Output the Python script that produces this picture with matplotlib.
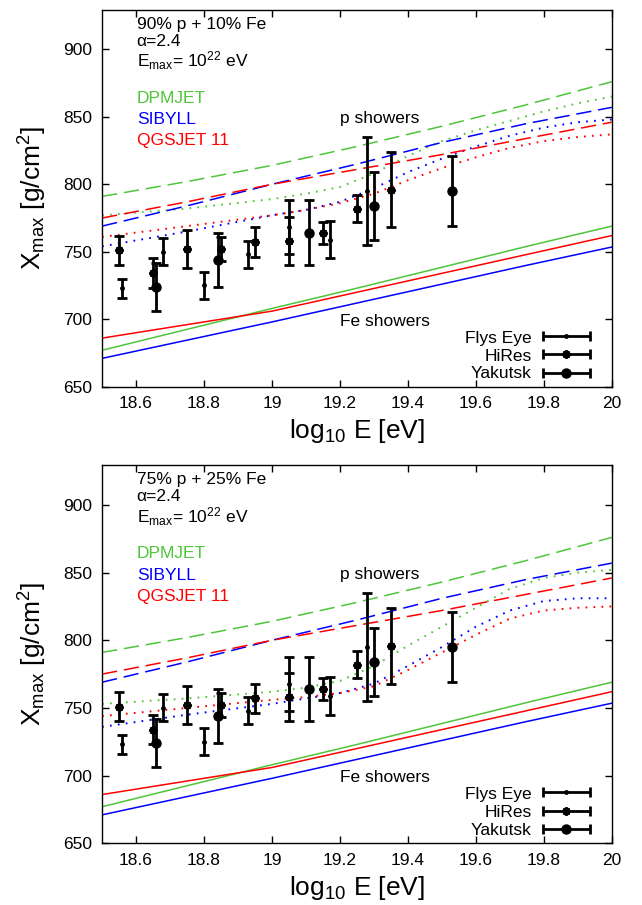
import matplotlib
matplotlib.use("Agg")
import matplotlib.pyplot as plt

plt.rcParams['font.family'] = ['Liberation Sans', 'DejaVu Sans']
plt.rcParams['mathtext.fontset'] = 'custom'
plt.rcParams['mathtext.rm'] = 'Liberation Sans'
plt.rcParams['mathtext.it'] = 'Liberation Sans:italic'

# ---------------- data ----------------
panel_titles = ["90% p + 10% Fe", "75% p + 25% Fe"]
alpha_text = "α=2.4"
emax_text = r"E$_{\rm max}$= 10$^{22}$ eV"
model_names = ["DPMJET", "SIBYLL", "QGSJET 11"]

x_ticks = [18.6, 18.8, 19.0, 19.2, 19.4, 19.6, 19.8, 20.0]
x_tick_labels = ["18.6", "18.8", "19", "19.2", "19.4", "19.6", "19.8", "20"]
y_ticks = [650, 700, 750, 800, 850, 900]

# pure proton / pure iron predictions
E_model = [18.5, 18.75, 19.0, 19.25, 19.5, 19.75, 20.0]
p_dpmjet = [791, 802, 814, 828, 843, 859, 876]
p_sibyll = [769, 784, 800, 815, 831, 845, 857]
p_qgsjet = [775, 787, 800, 811, 822, 834, 846]
fe_dpmjet = [677, 692.5, 708, 723, 738.5, 754, 769]
fe_sibyll = [671, 684.5, 698, 712, 726, 740, 753.5]
fe_qgsjet = [686, 696, 706, 720, 734, 748, 762]

# mixed composition predictions
E_mix = [18.5, 18.75, 19.0, 19.1, 19.2, 19.3, 19.4, 19.5, 19.6, 19.7, 19.8, 19.9, 20.0]
mix90_dpmjet = [777, 782, 789, 793, 798, 808, 821, 832, 840, 847, 854, 860, 865]
mix90_sibyll = [754, 765, 777, 781, 787, 797, 809, 819, 828, 836, 842, 846, 848]
mix90_qgsjet = [761, 769, 777, 781, 786, 793, 803, 812, 820, 827, 832, 835, 837]
mix75_dpmjet = [753, 757, 762, 765, 770, 781, 796, 810, 824, 838, 846, 850, 852]
mix75_sibyll = [736, 745, 753, 757, 761, 768, 781, 795, 810, 822, 829, 831, 831]
mix75_qgsjet = [744, 750, 756, 758, 761, 766, 778, 791, 804, 816, 822, 824, 825]

# measurements
fe_E = [18.56, 18.68, 18.80, 18.93, 19.05, 19.17, 19.28]
fe_X = [723, 750, 725, 748, 768, 759, 795]
fe_err = [7, 10, 10, 10, 20, 14, 40]

hr_E = [18.55, 18.65, 18.75, 18.85, 18.95, 19.05, 19.15, 19.25, 19.35]
hr_X = [751, 734, 752, 752, 757, 758, 764, 782, 796]
hr_err = [11, 11, 14, 9, 11, 18, 8, 10, 28]

yk_E = [18.66, 18.84, 19.11, 19.30, 19.53]
yk_X = [724, 744, 764, 784, 795]
yk_err = [18, 20, 24, 25, 26]

legend_names = ["Flys Eye", "HiRes", "Yakutsk"]

# ---------------- style ----------------
GREEN = '#4ec53a'
BLUE = '#0000ff'
RED = '#ff0000'
colors = [GREEN, BLUE, RED]

fig = plt.figure(figsize=(6.42, 9.05), dpi=100)
ax_top = fig.add_axes([0.159, 0.5727, 0.794, 0.4168])
ax_bot = fig.add_axes([0.159, 0.0682, 0.794, 0.4180])

mix_sets = [(mix90_dpmjet, mix90_sibyll, mix90_qgsjet),
            (mix75_dpmjet, mix75_sibyll, mix75_qgsjet)]

hires_marker = (8, 2, 0)


def draw_panel(ax, title, mixes):
    p_lines = [p_dpmjet, p_sibyll, p_qgsjet]
    fe_lines = [fe_dpmjet, fe_sibyll, fe_qgsjet]
    for c, pl, fl, ml in zip(colors, p_lines, fe_lines, mixes):
        ax.plot(E_model, pl, color=c, lw=1.1, dashes=(10, 4.5))
        ax.plot(E_model, fl, color=c, lw=1.1)
        ax.plot(E_mix, ml, color=c, lw=1.4, dashes=(0.9, 3.2))

    ek = dict(fmt='none', ecolor='black', elinewidth=2.0, capsize=3.4, capthick=2.0)
    ax.errorbar(fe_E, fe_X, yerr=fe_err, **ek)
    ax.errorbar(hr_E, hr_X, yerr=hr_err, **ek)
    ax.errorbar(yk_E, yk_X, yerr=yk_err, **ek)
    ax.plot(fe_E, fe_X, ls='none', marker='o', ms=2.5, color='black')
    ax.plot(hr_E, hr_X, ls='none', marker=hires_marker, ms=6, mew=1.6, color='black')
    ax.plot(yk_E, yk_X, ls='none', marker='o', ms=6.5, color='black')

    ax.set_xlim(18.5, 20.0)
    ax.set_ylim(650, 929.5)
    ax.set_xticks(x_ticks)
    ax.set_xticklabels(x_tick_labels)
    ax.set_yticks(y_ticks)
    ax.tick_params(direction='in', top=True, right=True, length=5, width=1,
                   labelsize=12.5)
    ax.tick_params(axis='x', pad=7)
    ax.tick_params(axis='y', pad=7)
    for s in ax.spines.values():
        s.set_linewidth(1.0)
    ax.set_xlabel(r"log$_{10}$ E [eV]", fontsize=19, labelpad=4)
    ax.set_ylabel(r"X$_{\rm max}$ [g/cm$^{2}$]", fontsize=19, labelpad=10)

    tx = 0.068
    fs = 12.5
    ax.text(tx, 0.9485, title, transform=ax.transAxes, fontsize=fs, va='baseline')
    ax.text(tx, 0.9035, alpha_text, transform=ax.transAxes, fontsize=fs, va='baseline')
    ax.text(tx, 0.8480, emax_text, transform=ax.transAxes, fontsize=fs, va='baseline')
    for name, c, yy in zip(model_names, colors, [0.7529, 0.6964, 0.6407]):
        ax.text(tx, yy, name, transform=ax.transAxes, fontsize=fs, va='baseline', color=c)
    ax.text(0.4667, 0.6983, "p showers", transform=ax.transAxes, fontsize=fs, va='baseline')
    ax.text(0.4667, 0.1609, "Fe showers", transform=ax.transAxes, fontsize=fs, va='baseline')

    # gnuplot-like key
    markers = [dict(marker='o', ms=2.5), dict(marker=hires_marker, ms=6, mew=1.6),
               dict(marker='o', ms=6.5)]
    for name, mk, yt, yl in zip(legend_names, markers, [0.1166, 0.0689, 0.0223],
                                [0.1344, 0.0859, 0.0371]):
        ax.text(0.8425, yt, name, transform=ax.transAxes, fontsize=fs,
                va='baseline', ha='right')
        ax.plot([0.8653, 0.958], [yl, yl], transform=ax.transAxes, color='black',
                lw=2.0, solid_capstyle='butt')
        ax.plot([0.8653, 0.958], [yl, yl], transform=ax.transAxes, ls='none',
                marker='|', ms=6.5, mew=2.0, color='black')
        ax.plot([0.911], [yl], transform=ax.transAxes, ls='none', color='black', **mk)


draw_panel(ax_top, panel_titles[0], mix_sets[0])
draw_panel(ax_bot, panel_titles[1], mix_sets[1])

fig.savefig("out.png", dpi=100)
